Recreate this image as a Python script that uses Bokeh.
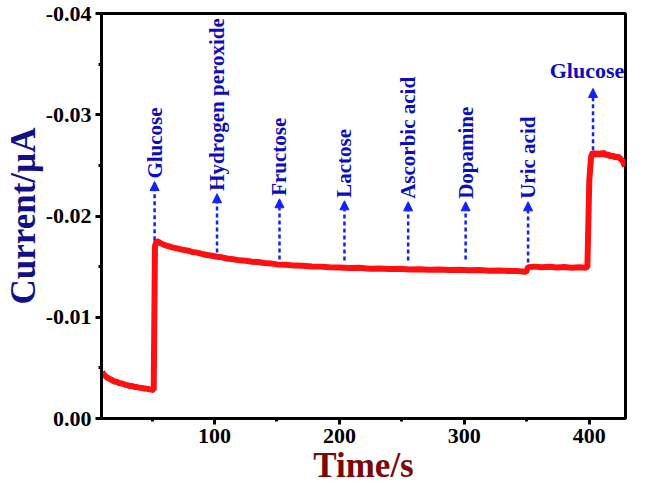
from bokeh.plotting import figure
from bokeh.models import Range1d, FixedTicker, PrintfTickFormatter, Arrow, NormalHead, ColumnDataSource
from bokeh.core.properties import value
from bokeh.embed import file_html
from bokeh.resources import INLINE
import math

# ---- data ----
time_s = [10, 12, 14, 16, 18, 20, 22, 24, 26, 28, 30, 32, 34, 36, 38, 40, 42, 44, 46, 48, 50, 51.3,
          52.3, 53.5, 55, 57, 60, 63, 66, 70, 74, 78, 82, 86, 90, 94, 98, 102, 106, 110, 115, 120,
          125, 130, 135, 140, 145, 150, 157, 164, 171, 178, 185, 192, 200, 208, 216, 224, 232, 240,
          248, 256, 264, 272, 280, 288, 296, 304, 312, 320, 328, 336, 342, 348, 349.5,
          351, 356, 362, 368, 374, 380, 386, 392, 397, 398.5,
          400, 401.5, 403, 405, 407, 409, 411, 413, 415, 417, 419, 421, 423, 425, 427, 428.5]
current_uA = [-0.00460, -0.00425, -0.00405, -0.00392, -0.00378, -0.00365, -0.00360, -0.00348, -0.00345,
              -0.00335, -0.00330, -0.00322, -0.00320, -0.00312, -0.00310, -0.00303, -0.00302, -0.00296,
              -0.00295, -0.00288, -0.00284, -0.00282,
              -0.01700, -0.01752, -0.01745, -0.01730, -0.01712, -0.01702, -0.01690, -0.01680, -0.01668,
              -0.01660, -0.01645, -0.01638, -0.01625, -0.01615, -0.01608, -0.01598, -0.01592, -0.01580,
              -0.01572, -0.01562, -0.01558, -0.01548, -0.01545, -0.01535, -0.01532, -0.01522, -0.01518,
              -0.01510, -0.01508, -0.01502, -0.01500, -0.01494, -0.01492, -0.01486, -0.01488, -0.01480,
              -0.01482, -0.01476, -0.01478, -0.01472, -0.01475, -0.01468, -0.01472, -0.01466, -0.01470,
              -0.01464, -0.01466, -0.01460, -0.01462, -0.01456, -0.01458, -0.01450, -0.01448,
              -0.01495, -0.01500, -0.01494, -0.01498, -0.01492, -0.01496, -0.01490, -0.01494, -0.01488, -0.01500,
              -0.02350, -0.02590, -0.02628, -0.02605, -0.02622, -0.02600, -0.02632, -0.02598, -0.02612,
              -0.02585, -0.02600, -0.02575, -0.02590, -0.02565, -0.02540, -0.02490]

arrow_time = [52, 102, 152, 204, 255, 301, 351, 403]
arrow_base = [-0.0176, -0.0164, -0.0157, -0.0156, -0.0156, -0.0157, -0.0154, -0.0265]
arrow_tip = [-0.0234, -0.0222, -0.0217, -0.0215, -0.0214, -0.0214, -0.0214, -0.0326]
arrow_labels = ["Glucose", "Hydrogen peroxide", "Fructose", "Lactose",
                "Ascorbic acid", "Dopamine", "Uric acid", "Glucose"]

x_ticks = [100, 200, 300, 400]
x_minor = [50, 150, 250, 350]
y_ticks = [0.0, -0.01, -0.02, -0.03, -0.04]
y_minor = [-0.005, -0.015, -0.025, -0.035]

FONT = "Liberation Serif"

p = figure(width=629, height=487, output_backend="svg", toolbar_location=None,
           x_range=Range1d(9.5, 429), y_range=Range1d(0.0, -0.04),
           min_border_left=80, min_border_right=4, min_border_top=13, min_border_bottom=10)
p.background_fill_color = "white"
p.border_fill_color = "white"
p.xgrid.visible = False
p.ygrid.visible = False
p.outline_line_color = "black"
p.outline_line_width = 3

p.line(time_s, current_uA, line_color="#ff1010", line_width=6)

for ax in (p.xaxis[0], p.yaxis[0]):
    ax.axis_line_width = 3
    ax.axis_line_color = "black"
    ax.major_tick_line_width = 3
    ax.minor_tick_line_width = 3
    ax.major_tick_in = 0
    ax.major_tick_out = 6
    ax.minor_tick_in = 0
    ax.minor_tick_out = 3
    ax.major_label_text_font = FONT
    ax.major_label_text_font_style = "bold"
    ax.major_label_text_font_size = "22px"
    ax.major_label_text_color = "black"
    ax.axis_label_text_font = FONT
    ax.axis_label_text_font_style = "bold"
    ax.axis_label_text_font_size = "35px"

p.xaxis.ticker = FixedTicker(ticks=x_ticks, minor_ticks=x_minor)
p.yaxis.ticker = FixedTicker(ticks=y_ticks, minor_ticks=y_minor)
p.yaxis.formatter = PrintfTickFormatter(format="%.2f")
p.xaxis.axis_label = "Time/s"
p.xaxis.axis_label_text_color = "#7a0a0a"
p.yaxis.axis_label = "Current/µA"
p.yaxis.axis_label_text_color = "#10108a"
p.xaxis.major_label_standoff = 4
p.yaxis.major_label_standoff = 4
p.xaxis.axis_label_standoff = 0
p.yaxis.axis_label_standoff = 0

src = ColumnDataSource(dict(x=arrow_time, y0=arrow_base, y1=arrow_tip, label=arrow_labels))
p.add_layout(Arrow(x_start="x", y_start="y0", x_end="x", y_end="y1", source=src,
                   line_color="#1020ff", line_width=2.5, line_dash="4 3",
                   end=NormalHead(size=9, fill_color="#1020ff", line_color="#1020ff", line_width=1)))

n = len(arrow_time) - 1
p.text(arrow_time[:n], arrow_tip[:n], text=arrow_labels[:n], angle=math.pi / 2,
       text_align="left", text_baseline="middle", y_offset=-3,
       text_font=value(FONT), text_font_style="bold", text_font_size="21px", text_color="#0c0cc0")
p.text(arrow_time[n:], arrow_tip[n:], text=arrow_labels[n:],
       text_align="center", text_baseline="bottom", x_offset=-6, y_offset=-5,
       text_font=value(FONT), text_font_style="bold", text_font_size="22px", text_color="#0c0cc0")

open("out.html", "w").write(file_html(p, INLINE))
